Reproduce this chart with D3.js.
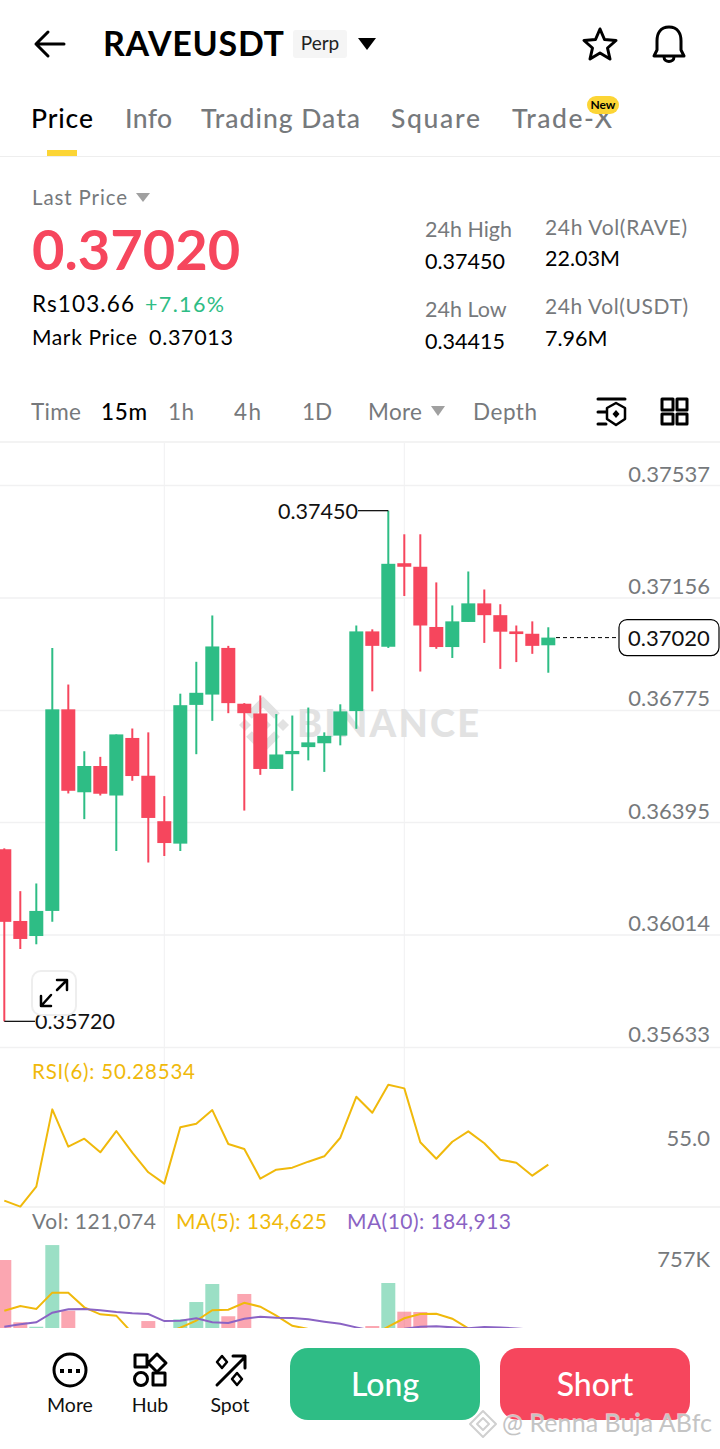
<!DOCTYPE html>
<html>
<head>
<meta charset="utf-8">
<script src="https://cdnjs.cloudflare.com/ajax/libs/d3/7.8.5/d3.min.js"></script>
<style>
html, body { margin: 0; padding: 0; background: #fff; }
svg { display: block; font-family: Lato, "Open Sans", sans-serif; }
</style>
</head>
<body>
<div id="chart"></div>
<script>
// 15m candles, left to right
var opens  = [0.36303,0.36060,0.36009,0.36094,0.36777,0.36496,0.36585,0.36485,0.36680,0.36552,0.36398,0.36322,0.36792,0.36827,0.36985,0.36796,0.36763,0.36575,0.36625,0.36649,0.36662,0.36688,0.36771,0.37041,0.36989,0.37272,0.37260,0.37056,0.36988,0.37073,0.37136,0.37096,0.37041,0.37033,0.36994];
var closes = [0.36057,0.35999,0.36094,0.36777,0.36501,0.36585,0.36491,0.36692,0.36551,0.36409,0.36324,0.36791,0.36833,0.36990,0.36798,0.36764,0.36575,0.36624,0.36636,0.36665,0.36687,0.36770,0.37041,0.36992,0.37270,0.37260,0.37061,0.36988,0.37075,0.37136,0.37096,0.37040,0.37032,0.36992,0.37020];
var highs  = [0.36306,0.36161,0.36187,0.36985,0.36861,0.36635,0.36616,0.36692,0.36712,0.36699,0.36483,0.36830,0.36938,0.37095,0.36992,0.36798,0.36824,0.36761,0.36756,0.36783,0.36699,0.36794,0.37061,0.37048,0.37450,0.37370,0.37370,0.37207,0.37129,0.37244,0.37183,0.37133,0.37061,0.37075,0.37055];
var lows   = [0.35720,0.35965,0.35981,0.36057,0.36492,0.36405,0.36485,0.36297,0.36535,0.36258,0.36280,0.36297,0.36625,0.36738,0.36764,0.36434,0.36555,0.36575,0.36501,0.36604,0.36565,0.36655,0.36711,0.36838,0.36985,0.37161,0.36905,0.36982,0.36951,0.37073,0.37002,0.36914,0.36937,0.36965,0.36901];
var rsiValues = [38.75,36.83,43.24,68.04,56.06,58.62,54.26,61.09,54.13,47.85,44.2,62.28,63.43,67.82,56.92,55.32,45.8,48.69,49.33,51.25,52.98,58.94,72.08,66.96,75.93,74.78,57.47,52.21,57.66,60.99,57.15,51.89,50.93,46.76,50.285];
var volumes = [865000,253000,209000,1012000,367000,170000,160000,140000,150000,265000,170000,282000,452000,629000,312000,531000,180000,120000,110000,100000,110000,120000,150000,216000,639000,357000,354000,170000,150000,130000,110000,140000,100000,120000,121074];
var ma5Values = [367000,413000,383000,544000,544000,400000,331000,318000,147000,135000,140000,200000,268000,371000,376000,445000,406000,318000,219000,187000,130000,110000,105000,125000,209000,292000,334000,337000,288000,192000,160000,140000,130000,130000,134625];
var ma10Values = [209000,233000,253000,347000,380000,383000,371000,354000,341000,334000,265000,268000,292000,253000,246000,288000,308000,298000,295000,282000,259000,239000,203000,170000,180000,190000,209000,213000,203000,195000,206000,202000,192000,180000,184913];
var priceTicks = [0.37537,0.37156,0.36775,0.36395,0.36014,0.35633];
var lastPrice = 0.37020, highMark = 0.37450, lowMark = 0.35720;
var tabs = ["Price","Info","Trading Data","Square","Trade-X"];
var intervals = ["Time","15m","1h","4h","1D","More","Depth"];

var GREEN = "#2EBD85", RED = "#F6465D", YELLOW = "#F0B90B", PURPLE = "#8A63C4", GREY = "#76797c", GRID = "#f1f1f2";

var svg = d3.select("#chart").append("svg").attr("width", 720).attr("height", 1449);

function label(x, y, str, size, color, weight, anchor) {
  return svg.append("text").attr("x", x).attr("y", y).text(str)
    .attr("font-size", size).attr("fill", color || "#000")
    .attr("font-weight", weight || 400).attr("text-anchor", anchor || "start");
}
function icon(d, width) {
  return svg.append("path").attr("d", d).attr("fill", "none").attr("stroke", "#000")
    .attr("stroke-width", width || 3).attr("stroke-linejoin", "round").attr("stroke-linecap", "round");
}
function solid(d, color) {
  return svg.append("path").attr("d", d).attr("fill", color);
}

// header
icon("M64 44H36M48 32L36 44L48 56", 3);
label(103, 56, "RAVEUSDT", 34, "#000", 700).attr("textLength", 181);
svg.append("rect").attr("x", 293).attr("y", 30).attr("width", 54).attr("height", 28).attr("rx", 3).attr("fill", "#f5f5f5");
label(320, 50, "Perp", 19, "#222", 400, "middle");
solid("M358 38H376L367 50Z", "#000");
icon("M600 29L604.5 39.5L616 40.5L607.5 48L610 59L600 53L590 59L592.5 48L584 40.5L595.5 39.5Z", 3);
icon("M669 27C660 27 657 34 657 41V50L654 56H684L681 50V41C681 34 678 27 669 27ZM664 57C664 63 674 63 674 57", 3);

// tabs
var tabX = [31, 125, 201, 391, 512], tabW = [62, 47, 159, 89, 100];
tabs.forEach(function(t, i) { label(tabX[i], 128, t, 26.5, i === 0 ? "#000" : GREY, 500).attr("textLength", tabW[i]); });
svg.append("rect").attr("x", 47).attr("y", 150).attr("width", 30).attr("height", 6).attr("fill", "#FCD535");
svg.append("rect").attr("x", 0).attr("y", 156).attr("width", 720).attr("height", 1).attr("fill", "#eeeeee");
svg.append("rect").attr("x", 587).attr("y", 96).attr("width", 32).attr("height", 18).attr("rx", 9).attr("fill", "#FCD535");
label(603, 109, "New", 12, "#000", 700, "middle");

// price summary
label(32, 205, "Last Price", 20.5, GREY).attr("textLength", 95);
solid("M136 193H150L143 202Z", "#a0a0a0");
label(32, 270, "0.37020", 56, RED, 700);
label(32, 312, "Rs103.66", 22.5, "#000").attr("textLength", 102);
label(145, 312, "+7.16%", 21.5, GREEN).attr("textLength", 79);
label(32, 345, "Mark Price", 21, "#000").attr("textLength", 105);
label(149, 345, "0.37013", 21.5, "#000").attr("textLength", 84);
label(425, 237, "24h High", 21.5, GREY);
label(425, 269, "0.37450", 21.5, "#000");
label(425, 317, "24h Low", 21.5, GREY);
label(425, 349, "0.34415", 21.5, "#000");
label(545, 235, "24h Vol(RAVE)", 21, GREY).attr("textLength", 142);
label(545, 266, "22.03M", 21.5, "#000");
label(545, 314, "24h Vol(USDT)", 21, GREY).attr("textLength", 143);
label(545, 346, "7.96M", 21.5, "#000");

// interval row
var intervalX = [31, 101, 168, 234, 302, 368, 473], intervalW = [50, 46, 26, 27, 30, 54, 64];
intervals.forEach(function(t, i) {
  label(intervalX[i], 420, t, 22.5, i === 1 ? "#000" : GREY, i === 1 ? 500 : 400).attr("textLength", intervalW[i]);
});
solid("M431 406H445L438 416Z", "#a0a0a0");
icon("M598 399H625M598 412H606M598 424H606", 3);
icon("M616 403L625 408V419L616 425L607 419V408Z", 2.5);
solid("M616 410L619.5 414L616 418L612.5 414Z", "#000");
icon("M662 399H673V410H662ZM677 399H687V410H677ZM662 414H673V424H662ZM677 414H687V424H677Z", 3);

// scales
var x = d3.scaleBand().domain(d3.range(opens.length)).range([-3.7, 556.3]).paddingInner(0.125).paddingOuter(0.0625);
var y = d3.scaleLinear().domain([0.35633, 0.37537]).range([1047, 485]);
var yRsi = d3.scaleLinear().domain([55, 36.7]).range([1150, 1207]);
var yVol = d3.scaleLinear().domain([0, 757000]).range([1348, 1271]);
function cx(i) { return x(i) + x.bandwidth() / 2; }

// panel separators and grid
svg.append("rect").attr("x", 0).attr("y", 441).attr("width", 720).attr("height", 2).attr("fill", "#f3f3f3");
svg.append("g").selectAll("line").data([10, 25]).enter().append("line")
  .attr("x1", function(d) { return cx(d); }).attr("x2", function(d) { return cx(d); })
  .attr("y1", 443).attr("y2", 1328).attr("stroke", GRID).attr("stroke-width", 1);

var axis = svg.append("g").call(d3.axisRight(y).tickValues(priceTicks).tickSize(720).tickFormat(d3.format(".5f")));
axis.select(".domain").remove();
axis.selectAll("line").attr("stroke", GRID).attr("stroke-width", 1.5);
axis.selectAll("text").attr("x", 710).attr("dy", function(d) { return d === 0.35633 ? -6 : -4; })
  .attr("text-anchor", "end").attr("font-size", 22).attr("font-family", "Lato").attr("fill", GREY);
svg.append("rect").attr("x", 0).attr("y", 1206).attr("width", 720).attr("height", 2).attr("fill", "#f3f3f3");

// watermark, sits under the candles
var wmColor = "#e2e2e2";
[["M249 716L263 702L277 716"], ["M249 734L263 748L277 734"]].forEach(function(p) {
  svg.append("path").attr("d", p[0]).attr("fill", "none").attr("stroke", wmColor).attr("stroke-width", 8);
});
[[245, 725, 6], [283, 725, 6], [264, 725, 7]].forEach(function(p) {
  solid("M" + p[0] + " " + (p[1] - p[2]) + "L" + (p[0] + p[2]) + " " + p[1] + "L" + p[0] + " " + (p[1] + p[2]) + "L" + (p[0] - p[2]) + " " + p[1] + "Z", wmColor);
});
label(297, 737, "BINANCE", 38, wmColor, 900).attr("textLength", 182);

// candles
var candles = svg.append("g").selectAll("g").data(opens).enter().append("g");
candles.append("line")
  .attr("x1", function(d, i) { return cx(i); }).attr("x2", function(d, i) { return cx(i); })
  .attr("y1", function(d, i) { return y(highs[i]); }).attr("y2", function(d, i) { return y(lows[i]); })
  .attr("stroke", function(d, i) { return closes[i] >= d ? GREEN : RED; }).attr("stroke-width", 2);
candles.append("rect")
  .attr("x", function(d, i) { return x(i); }).attr("width", x.bandwidth())
  .attr("y", function(d, i) { return y(Math.max(d, closes[i])); })
  .attr("height", function(d, i) { return Math.abs(y(d) - y(closes[i])); })
  .attr("fill", function(d, i) { return closes[i] >= d ? GREEN : RED; });

// high / low markers
svg.append("line").attr("x1", 358).attr("x2", cx(24)).attr("y1", y(highMark)).attr("y2", y(highMark)).attr("stroke", "#000").attr("stroke-width", 1.2);
label(278, y(highMark) + 8, highMark.toFixed(5), 21.5, "#111");
svg.append("line").attr("x1", cx(0)).attr("x2", 35).attr("y1", y(lowMark)).attr("y2", y(lowMark)).attr("stroke", "#000").attr("stroke-width", 1.2);
label(35, y(lowMark) + 8, lowMark.toFixed(5), 21.5, "#111");

// last price tag
svg.append("line").attr("x1", 556).attr("x2", 619).attr("y1", y(lastPrice)).attr("y2", y(lastPrice))
  .attr("stroke", "#000").attr("stroke-width", 1).attr("stroke-dasharray", "4 3");
svg.append("rect").attr("x", 619).attr("y", y(lastPrice) - 18).attr("width", 100).attr("height", 36).attr("rx", 8)
  .attr("fill", "#fff").attr("stroke", "#000").attr("stroke-width", 1.2);
label(669, y(lastPrice) + 8, lastPrice.toFixed(5), 22, "#111", 400, "middle");

// expand button, partly covers the low label
svg.append("rect").attr("x", 32).attr("y", 971).attr("width", 44).attr("height", 44).attr("rx", 9)
  .attr("fill", "#fff").attr("fill-opacity", 0.85).attr("stroke", "#eeeeee").attr("stroke-width", 2);
icon("M57 990L66 981M57 980H67V990M51 995L42 1005M41 996V1006H51", 2.5);

// RSI panel
label(32, 1079, "RSI(6): 50.28534", 20.5, YELLOW).attr("textLength", 163);
label(710, 1146, "55.0", 22, GREY, 400, "end");
var rsiLine = d3.line().x(function(d, i) { return cx(i); }).y(function(d) { return yRsi(d); });
svg.append("path").attr("d", rsiLine(rsiValues)).attr("fill", "none").attr("stroke", YELLOW).attr("stroke-width", 2).attr("stroke-linejoin", "round");

// volume panel
label(32, 1229, "Vol: 121,074", 21, GREY).attr("textLength", 124);
label(176, 1229, "MA(5): 134,625", 21, YELLOW).attr("textLength", 151);
label(347, 1229, "MA(10): 184,913", 21, PURPLE).attr("textLength", 164);
label(710, 1267, "757K", 22, GREY, 400, "end");

svg.append("clipPath").attr("id", "volClip").append("rect").attr("x", 0).attr("y", 1208).attr("width", 720).attr("height", 120);
var volG = svg.append("g").attr("clip-path", "url(#volClip)");
volG.selectAll("rect").data(volumes).enter().append("rect")
  .attr("x", function(d, i) { return x(i); }).attr("width", x.bandwidth())
  .attr("y", function(d) { return yVol(d); }).attr("height", function(d) { return yVol(0) - yVol(d); })
  .attr("fill", function(d, i) { return closes[i] >= opens[i] ? GREEN : RED; }).attr("opacity", 0.48);
var volLine = d3.line().x(function(d, i) { return cx(i); }).y(function(d) { return yVol(d); });
volG.append("path").attr("d", volLine(ma5Values)).attr("fill", "none").attr("stroke", YELLOW).attr("stroke-width", 2);
volG.append("path").attr("d", volLine(ma10Values)).attr("fill", "none").attr("stroke", PURPLE).attr("stroke-width", 2);

// bottom bar
svg.append("rect").attr("x", 0).attr("y", 1328).attr("width", 720).attr("height", 121).attr("fill", "#fff");
svg.append("circle").attr("cx", 70).attr("cy", 1370).attr("r", 16).attr("fill", "none").attr("stroke", "#000").attr("stroke-width", 3);
[62, 70, 78].forEach(function(px) { svg.append("rect").attr("x", px - 2).attr("y", 1369).attr("width", 4).attr("height", 4).attr("fill", "#000"); });
icon("M135 1355H147V1367H135ZM157 1354L166 1363L157 1372L148 1363Z", 3);
svg.append("circle").attr("cx", 141).attr("cy", 1379).attr("r", 6.5).attr("fill", "none").attr("stroke", "#000").attr("stroke-width", 3);
icon("M153 1373H165V1385H153Z", 3);
icon("M217 1385L245 1357M233 1356H245V1368", 3);
icon("M222 1356L227 1362L222 1368L217 1362ZM237 1373L242 1379L237 1385L232 1379Z", 2.5);
label(70, 1412, "More", 19.5, "#111", 400, "middle");
label(150, 1412, "Hub", 19.5, "#111", 400, "middle");
label(230, 1412, "Spot", 19.5, "#111", 400, "middle");

svg.append("rect").attr("x", 290).attr("y", 1348).attr("width", 190).attr("height", 72).attr("rx", 18).attr("fill", GREEN);
svg.append("rect").attr("x", 500).attr("y", 1348).attr("width", 190).attr("height", 72).attr("rx", 18).attr("fill", RED);
label(385, 1396, "Long", 32, "#fff", 500, "middle");
label(595, 1396, "Short", 32, "#fff", 500, "middle");

// repost stamp
icon("M483 1411L496 1424L483 1437L470 1424Z", 2).attr("stroke", "#d0d0d0");
icon("M483 1418L489 1424L483 1430L477 1424Z", 2).attr("stroke", "#d0d0d0");
label(502, 1432, "@ Renna Buja ABfc", 25, "#c4c4c4").attr("textLength", 210)
  .attr("paint-order", "stroke").attr("stroke", "rgba(255,255,255,0.6)").attr("stroke-width", 1.5);
</script>
</body>
</html>
